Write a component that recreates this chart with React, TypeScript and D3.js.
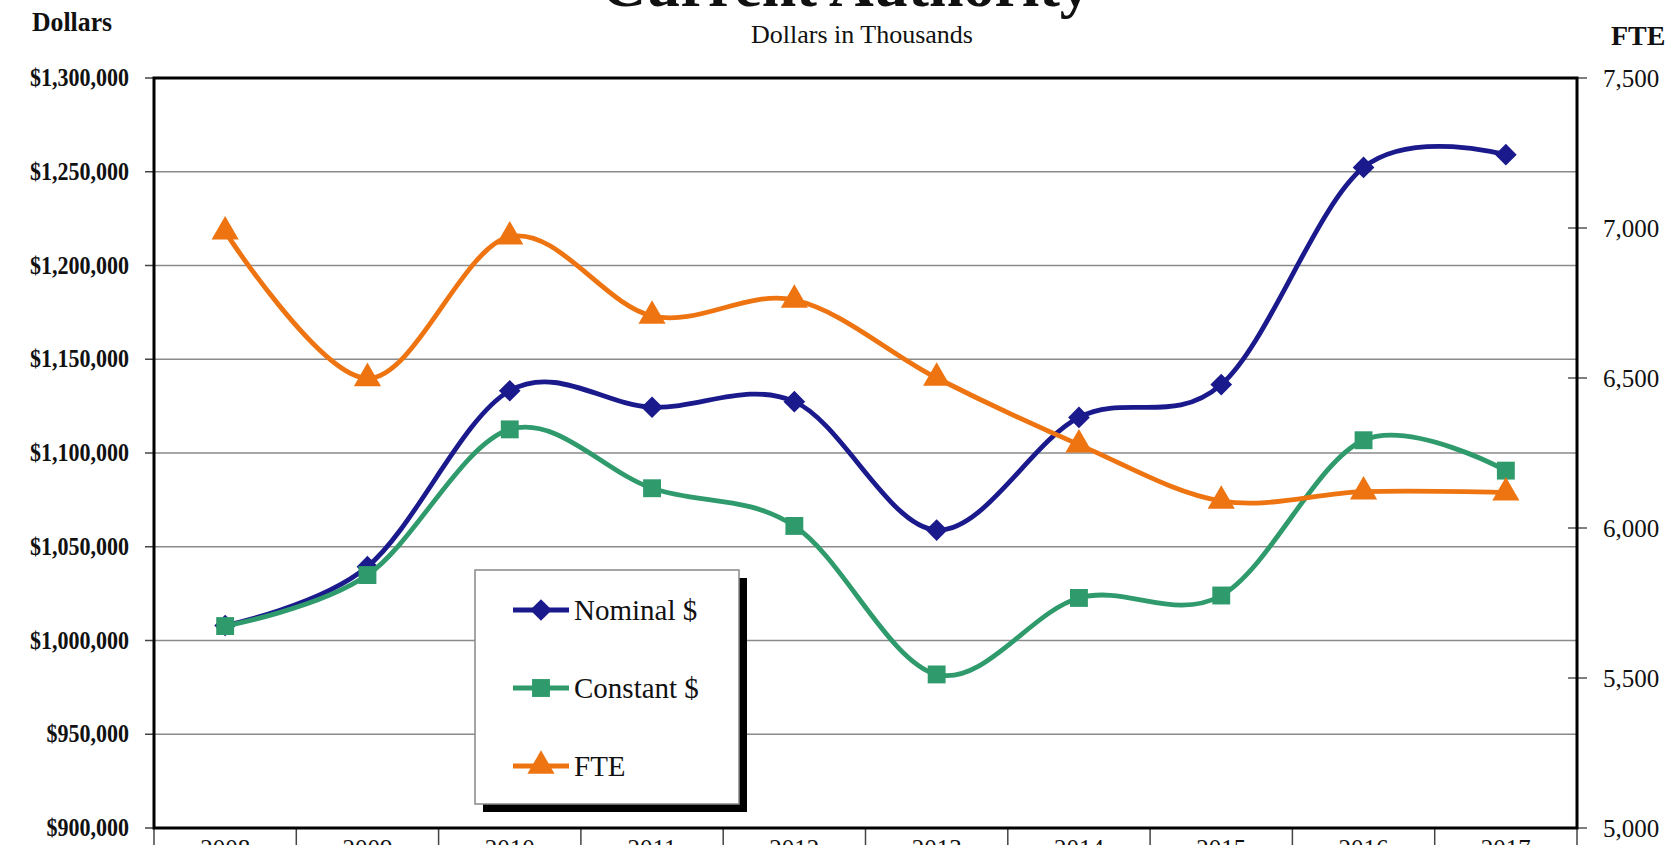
import React from "react";
import * as d3 from "d3";

const years = ["2008", "2009", "2010", "2011", "2012", "2013", "2014", "2015", "2016", "2017"];
const nominal = [1008000, 1039400, 1133200, 1124400, 1127400, 1058900, 1119000, 1136500, 1252300, 1259100];
const constant = [1007700, 1034900, 1112600, 1081200, 1061100, 981900, 1022700, 1024000, 1106800, 1090600];
const fte = [6988, 6499, 6971, 6707, 6760, 6500, 6278, 6090, 6121, 6118];
const leftTicks = [900000, 950000, 1000000, 1050000, 1100000, 1150000, 1200000, 1250000, 1300000];
const rightTicks = [5000, 5500, 6000, 6500, 7000, 7500];
const legendLabels = ["Nominal $", "Constant $", "FTE"];

const W = 1674;
const H = 845;
const L = 154, R = 1577, T = 78, B = 828;
const FONT = "'Liberation Serif', 'Times New Roman', serif";
const C_NOM = "#1b1a8c";
const C_CON = "#2f9a6c";
const C_FTE = "#ee7412";

export default function App() {
  const x = d3.scaleBand<string>().domain(years).range([L, R]);
  const cx = (i: number) => (x(years[i]) as number) + x.bandwidth() / 2;
  const yL = d3.scaleLinear().domain([900000, 1300000]).range([B, T]);
  const yR = d3.scaleLinear().domain([5000, 7500]).range([B, T]);
  const fmtL = (v: number) => "$" + d3.format(",")(v);
  const fmtR = d3.format(",");

  const curve = d3.curveCatmullRom.alpha(0);
  const lineL = d3.line<number>().x((_, i) => cx(i)).y((v) => yL(v)).curve(curve);
  const lineR = d3.line<number>().x((_, i) => cx(i)).y((v) => yR(v)).curve(curve);

  const diamond = d3.symbol().type(d3.symbolDiamond2).size(300)() as string;
  const square = d3.symbol().type(d3.symbolSquare).size(320)() as string;
  const triangle = d3.symbol().type(d3.symbolTriangle).size(320)() as string;

  const series = [
    { vals: nominal, color: C_NOM, sym: diamond, scale: yL },
    { vals: constant, color: C_CON, sym: square, scale: yL },
    { vals: fte, color: C_FTE, sym: triangle, scale: yR },
  ];

  const leg = { x: 475, y: 570, w: 264, h: 234 };
  const legRows = [610, 688, 766];

  return (
    <svg width={W} height={H} style={{ position: "absolute", left: 0, top: 0, background: "#fff" }} fontFamily={FONT}>
      <rect x={0} y={0} width={W} height={H} fill="#fff" />
      {/* title (cut at top) */}
      <text x={846} y={6} textAnchor="middle" fontSize={62} fontWeight="bold" fill="#111">Current Authority</text>
      <text x={862} y={43} textAnchor="middle" fontSize={26} fill="#111">Dollars in Thousands</text>
      <g transform="translate(32,31) scale(0.92,1)">
        <text x={0} y={0} fontSize={28} fontWeight="bold" fill="#111">Dollars</text>
      </g>
      <text x={1611} y={45} fontSize={28} fontWeight="bold" fill="#111">FTE</text>

      {/* gridlines */}
      {leftTicks.slice(1, -1).map((t) => (
        <line key={t} x1={L} x2={R} y1={yL(t)} y2={yL(t)} stroke="#8a8a8a" strokeWidth={1.6} />
      ))}

      {/* left ticks + labels */}
      {leftTicks.map((t) => (
        <g key={"l" + t}>
          <line x1={145} x2={L} y1={yL(t)} y2={yL(t)} stroke="#444" strokeWidth={1.5} />
          <g transform={`translate(129,${yL(t) + 8}) scale(0.88,1)`}>
            <text x={0} y={0} textAnchor="end" fontSize={25} fontWeight="bold" fill="#111">{fmtL(t)}</text>
          </g>
        </g>
      ))}

      {/* right ticks + labels */}
      {rightTicks.map((t) => (
        <g key={"r" + t}>
          <line x1={R - 9} x2={R + 10} y1={yR(t)} y2={yR(t)} stroke="#555" strokeWidth={1.5} />
          <text x={1603} y={yR(t) + 9} fontSize={25} fill="#111">{fmtR(t)}</text>
        </g>
      ))}

      {/* category separators and labels */}
      {years.map((yv) => (
        <line key={"s" + yv} x1={x(yv)} x2={x(yv)} y1={B} y2={H} stroke="#444" strokeWidth={1.5} />
      ))}
      <line x1={R} x2={R} y1={B} y2={H} stroke="#444" strokeWidth={1.5} />
      {years.map((yv, i) => (
        <text key={"t" + yv} x={cx(i)} y={857} textAnchor="middle" fontSize={25} fill="#111">{yv}</text>
      ))}

      {/* series */}
      {series.map((s, k) => (
        <g key={"sr" + k}>
          <path d={(s.scale === yL ? lineL : lineR)(s.vals) as string} fill="none" stroke={s.color} strokeWidth={4.8} />
          {s.vals.map((v, i) => (
            <path key={i} d={s.sym} transform={`translate(${cx(i)},${s.scale(v)})`} fill={s.color} />
          ))}
        </g>
      ))}

      {/* plot border */}
      <rect x={L} y={T} width={R - L} height={B - T} fill="none" stroke="#000" strokeWidth={3} />

      {/* legend */}
      <rect x={leg.x + 8} y={leg.y + 8} width={leg.w} height={leg.h} fill="#000" />
      <rect x={leg.x} y={leg.y} width={leg.w} height={leg.h} fill="#fff" stroke="#888" strokeWidth={1.5} />
      {series.map((s, k) => (
        <g key={"lg" + k}>
          <line x1={513} x2={569} y1={legRows[k]} y2={legRows[k]} stroke={s.color} strokeWidth={4.8} />
          <path d={s.sym} transform={`translate(541,${legRows[k]})`} fill={s.color} />
          <text x={574} y={legRows[k] + 10} fontSize={29} fill="#111">{legendLabels[k]}</text>
        </g>
      ))}
    </svg>
  );
}
